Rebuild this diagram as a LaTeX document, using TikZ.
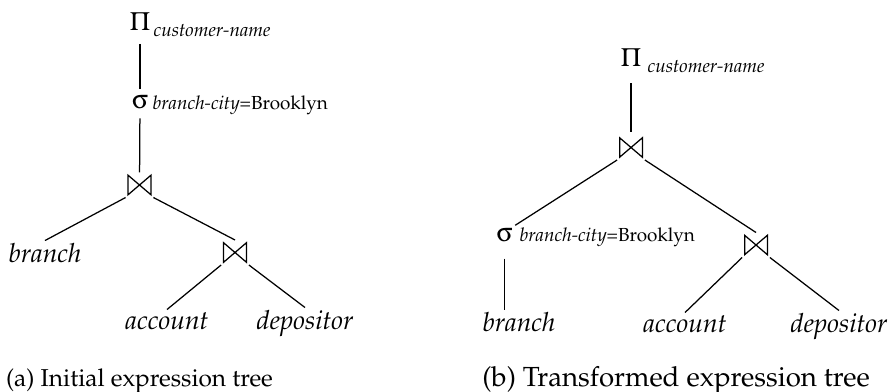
\documentclass[tikz,border=0pt]{standalone}
\usepackage[T1]{fontenc}
\usepackage{mathpazo}
\usepackage{pifont}
\usetikzlibrary{positioning}

\newcommand{\symPi}{\Pisymbol{psy}{80}}
\newcommand{\symSigma}{\Pisymbol{psy}{115}}

\begin{document}
\begin{tikzpicture}[x=0.36pt, y=-0.36pt, line width=0.45pt,
    op/.style={inner sep=0pt, outer sep=1pt, font=\fontsize{9.5}{11}\selectfont},
    sub/.style={inner sep=0pt, anchor=base west, font=\fontsize{6.8}{8}\selectfont},
    leaf/.style={inner sep=1pt, anchor=base, font=\fontsize{9.5}{11}\selectfont\itshape},
    captext/.style={inner sep=0pt, anchor=base, font=\fontsize{#1}{11}\selectfont},
    joinop/.style={minimum width=10pt, minimum height=9pt, inner sep=0pt, outer sep=0pt,
      path picture={\draw[line width=0.45pt]
        ([shift={(-4.1pt,3.5pt)}]path picture bounding box.center) --
        ([shift={(4.1pt,-3.5pt)}]path picture bounding box.center) --
        ([shift={(4.1pt,3.5pt)}]path picture bounding box.center) --
        ([shift={(-4.1pt,-3.5pt)}]path picture bounding box.center) -- cycle;}}]
    \useasboundingbox (0,0) rectangle (890,392);

    % (a) Initial expression tree
    \node[op] (pA) at (140,21) {\symPi};
    \node[sub] (pAs) at (153,37) {\textit{customer-name}};
    \node[op] (sA) at (140,102.5) {\symSigma};
    \node[sub] (sAs) at (152,110) {\textit{branch-city}=Brooklyn};
    \node[joinop] (jA1) at (139.5,185) {};
    \node[leaf] (bA) at (45,263) {branch};
    \node[joinop] (jA2) at (235,252.5) {};
    \node[leaf] (aA) at (167,330) {account};
    \node[leaf] (dA) at (305,330) {depositor};

    \draw[shorten <=4pt, shorten >=1.5pt] (pA) -- (sA);
    \draw[shorten <=2.2pt] (sA) -- (jA1);
    \draw (jA1.south west) -- (bA.north);
    \draw (jA1.south east) -- (jA2.north);
    \draw (jA2.south west) -- (aA.north);
    \draw (jA2.south east) -- (dA.north);

    % (b) Transformed expression tree
    \node[op] (pB) at (631,57.5) {\symPi};
    \node[sub] (pBs) at (647,73) {\textit{customer-name}};
    \node[joinop] (jB1) at (631,147.5) {};
    \node[op] (sB) at (504.5,235) {\symSigma};
    \node[sub] (sBs) at (519,242) {\textit{branch-city}=Brooklyn};
    \node[leaf] (bB) at (519,332) {branch};
    \node[joinop] (jB2) at (756,245) {};
    \node[leaf] (aB) at (685,333) {account};
    \node[leaf] (dB) at (839,333) {depositor};

    \draw[shorten <=5pt, shorten >=1pt] (pB) -- (jB1);
    \draw (jB1.south west) -- (sB.north east);
    \draw (jB1.south east) -- (jB2.north);
    \draw[shorten <=5pt] (sB) -- (sB |- bB.north);
    \draw (jB2.south west) -- (aB.north);
    \draw (jB2.south east) -- (dB.north);

    % captions
    \node[captext=8.8] (capA) at (139.5,386) {(a) Initial expression tree};
    \node[captext=9.95] (capB) at (676,386) {(b) Transformed expression tree};
\end{tikzpicture}
\end{document}
